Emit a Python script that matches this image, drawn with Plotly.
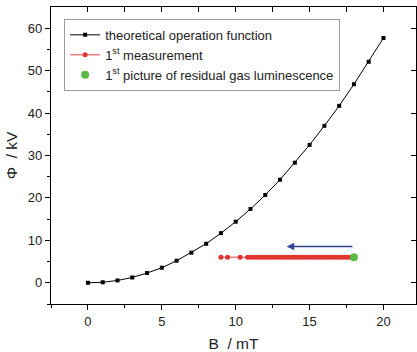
import plotly.graph_objects as go

# theoretical operation function
theo_B = list(range(0, 21))
theo_phi = [0.0, 0.12, 0.55, 1.25, 2.3, 3.55, 5.2, 7.1, 9.2, 11.7, 14.4, 17.4,
            20.7, 24.3, 28.3, 32.5, 37.0, 41.7, 46.8, 52.1, 57.7]

# 1st measurement
meas_B = [9.0, 9.45, 10.3, 10.8, 11.0, 11.2, 11.4, 11.6, 11.8, 12.0, 12.2, 12.4,
          12.6, 12.8, 13.0, 13.2, 13.4, 13.6, 13.8, 14.0, 14.2, 14.4, 14.6, 14.8,
          15.0, 15.2, 15.4, 15.6, 15.8, 16.0, 16.2, 16.4, 16.6, 16.8, 17.0, 17.2,
          17.4, 17.6, 17.8, 18.0]
meas_phi = [6.0] * len(meas_B)

# 1st picture of residual gas luminescence
lum_B = [18.0]
lum_phi = [6.0]

# direction arrow (from -> to)
arrow_from = (18.0, 8.55)
arrow_to = (13.45, 8.55)

FONT = "Liberation Sans, Arial, sans-serif"

fig = go.Figure()
fig.add_trace(go.Scatter(
    x=theo_B, y=theo_phi, mode="lines+markers", name="theoretical operation function",
    line=dict(color="black", width=1), marker=dict(symbol="square", size=4, color="black")))
fig.add_trace(go.Scatter(
    x=meas_B, y=meas_phi, mode="lines+markers", name="1<sup>st</sup> measurement",
    line=dict(color="#ee8080", width=1.5), marker=dict(symbol="circle", size=5, color="#e03530")))
fig.add_trace(go.Scatter(
    x=lum_B, y=lum_phi, mode="markers", name="1<sup>st</sup> picture of residual gas luminescence",
    marker=dict(symbol="circle", size=8, color="#5cb946")))

fig.add_annotation(x=arrow_to[0], y=arrow_to[1], ax=arrow_from[0], ay=arrow_from[1],
                   xref="x", yref="y", axref="x", ayref="y", text="", showarrow=True,
                   arrowhead=2, arrowsize=1, arrowwidth=1.5, arrowcolor="#2e4593")

xr = [-2.5, 22.2]
yr = [-5, 65]

fig.update_layout(
    width=417, height=352,
    margin=dict(l=51, r=1, t=7, b=48),
    paper_bgcolor="white", plot_bgcolor="white",
    font=dict(family=FONT, size=12, color="#222"),
    showlegend=True,
    legend=dict(x=0.036, y=0.96, xanchor="left", yanchor="top", itemwidth=30,
                bgcolor="white", bordercolor="#999", borderwidth=1,
                font=dict(size=13, color="#222"), tracegroupgap=0),
    xaxis=dict(range=xr, title=dict(text="B  / mT", font=dict(size=15.5), standoff=10),
               tickvals=[0, 5, 10, 15, 20], ticks="outside", ticklen=5, tickcolor="black",
               minor=dict(tickvals=[-2.5, 2.5, 7.5, 12.5, 17.5], ticks="outside", ticklen=3, tickcolor="black"),
               showline=True, linecolor="black", linewidth=1.2, mirror=True,
               showgrid=False, zeroline=False, tickfont=dict(size=13)),
    yaxis=dict(range=yr, title=dict(text="Φ  / kV", font=dict(size=15.5), standoff=6),
               tickvals=[0, 10, 20, 30, 40, 50, 60], ticks="outside", ticklen=5, tickcolor="black",
               minor=dict(tickvals=[-5, 5, 15, 25, 35, 45, 55], ticks="outside", ticklen=3, tickcolor="black"),
               showline=True, linecolor="black", linewidth=1.2, mirror=True,
               showgrid=False, zeroline=False, tickfont=dict(size=13)),
    xaxis2=dict(range=xr, overlaying="x", side="top", tickvals=[0, 2.5, 5, 7.5, 10, 12.5, 15, 17.5, 20],
                ticks="inside", ticklen=5, tickcolor="black", showticklabels=False,
                showgrid=False, zeroline=False, showline=False),
    yaxis2=dict(range=yr, overlaying="y", side="right", tickvals=[0, 10, 20, 30, 40, 50, 60],
                ticks="inside", ticklen=5, tickcolor="black", showticklabels=False,
                showgrid=False, zeroline=False, showline=False),
)
# invisible trace to activate secondary axes
fig.add_trace(go.Scatter(x=[None], y=[None], xaxis="x2", yaxis="y2", showlegend=False,
                         hoverinfo="skip"))

fig.write_html("out.html")
